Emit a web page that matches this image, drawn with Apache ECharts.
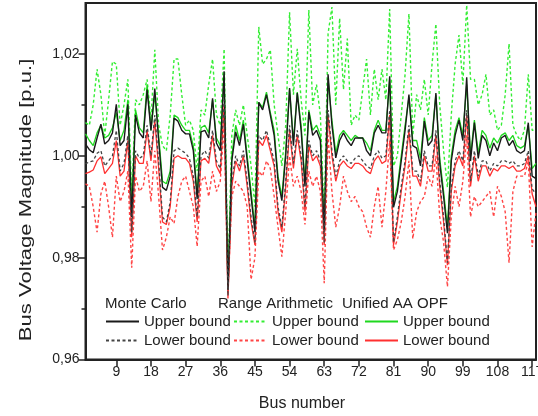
<!DOCTYPE html>
<html>
<head>
<meta charset="utf-8">
<script src="https://cdn.jsdelivr.net/npm/echarts@6/dist/echarts.min.js"></script>
<style>html,body{margin:0;padding:0;background:#fff}#c{width:538px;height:416px}</style>
</head>
<body>
<div id="c"></div>
<script>
// Bus numbers (x categories)
var buses = [];
for (var b = 1; b <= 118; b++) buses.push(b);

var xTicks = [9, 18, 27, 36, 45, 54, 63, 72, 81, 90, 99, 108, 117];
var yTicks = [0.96, 0.98, 1.00, 1.02];
var yMinorTicks = [0.97, 0.99, 1.01];

// Monte Carlo upper bound
var mcUpper = [
1.0023,1.0012,1.0006,1.0035,1.0062,1.0023,1.0030,1.0045,1.0101,1.0020,
1.0030,1.0101,0.9880,1.0080,1.0045,1.0035,1.0130,1.0050,1.0132,1.0030,
0.9938,0.9932,0.9960,1.0074,1.0068,1.0050,1.0043,1.0043,1.0010,0.9915,
1.0047,1.0050,1.0035,1.0113,1.0025,1.0010,1.0166,0.9737,0.9990,1.0047,
1.0020,1.0062,0.9990,0.9920,0.9850,1.0105,1.0090,1.0120,1.0080,1.0040,
0.9951,0.9912,1.0000,1.0133,1.0020,1.0123,1.0050,0.9940,1.0086,1.0040,
1.0050,1.0030,0.9854,1.0160,1.0060,0.9996,1.0030,1.0045,1.0030,1.0020,
1.0035,1.0035,1.0035,1.0010,1.0000,1.0045,1.0060,1.0045,1.0045,1.0156,
0.9899,0.9930,0.9990,1.0050,1.0120,1.0020,1.0015,0.9980,1.0068,1.0020,
1.0030,1.0123,0.9985,0.9920,0.9848,0.9990,1.0040,1.0070,1.0030,1.0154,
0.9990,1.0065,0.9995,1.0040,1.0030,1.0000,1.0025,1.0010,1.0035,1.0040,
1.0020,1.0030,1.0010,1.0005,1.0010,1.0065,0.9960,0.9955
];
// Monte Carlo lower bound
var mcLower = [
0.9984,0.9988,0.9990,1.0005,1.0010,0.9980,0.9990,1.0000,1.0050,0.9970,
0.9985,1.0040,0.9850,1.0010,0.9995,1.0000,1.0060,1.0000,1.0080,0.9990,
0.9880,0.9870,0.9910,1.0010,1.0015,1.0010,1.0005,0.9995,0.9960,0.9880,
1.0000,1.0010,0.9995,1.0050,0.9990,0.9975,1.0110,0.9725,0.9950,1.0000,
0.9980,1.0010,0.9950,0.9880,0.9830,1.0040,1.0030,1.0050,1.0020,0.9990,
0.9900,0.9860,0.9950,1.0060,0.9985,1.0050,1.0000,0.9900,1.0030,1.0000,
1.0010,0.9990,0.9830,1.0090,1.0010,0.9960,0.9990,1.0000,0.9990,0.9985,
0.9995,1.0000,0.9990,0.9980,0.9975,1.0000,1.0010,0.9995,1.0000,1.0090,
0.9830,0.9880,0.9940,0.9990,1.0060,0.9970,0.9970,0.9950,1.0010,0.9980,
0.9980,1.0050,0.9950,0.9880,0.9790,0.9940,0.9990,1.0010,0.9990,1.0090,
0.9950,1.0010,0.9960,0.9990,0.9990,0.9970,0.9985,0.9980,0.9990,0.9990,
0.9985,0.9990,0.9980,0.9980,0.9985,1.0010,0.9935,0.9925
];
// Range Arithmetic upper bound
var raUpper = [
1.0065,1.0060,1.0100,1.0170,1.0120,1.0040,1.0110,1.0185,1.0180,1.0060,
1.0100,1.0150,0.9920,1.0110,1.0100,1.0120,1.0150,1.0070,1.0208,1.0060,
1.0020,1.0010,1.0080,1.0190,1.0190,1.0120,1.0060,1.0070,1.0050,0.9970,
1.0090,1.0080,1.0140,1.0190,1.0080,1.0060,1.0210,0.9760,1.0040,1.0090,
1.0060,1.0100,1.0040,0.9980,0.9900,1.0253,1.0180,1.0190,1.0208,1.0100,
1.0040,0.9980,1.0060,1.0282,1.0120,1.0210,1.0110,1.0040,1.0286,1.0100,
1.0140,1.0080,0.9880,1.0240,1.0292,1.0100,1.0270,1.0130,1.0230,1.0060,
1.0080,1.0070,1.0130,1.0190,1.0080,1.0170,1.0110,1.0170,1.0110,1.0288,
0.9980,1.0000,1.0080,1.0160,1.0279,1.0040,1.0120,1.0090,1.0150,1.0080,
1.0180,1.0259,1.0100,1.0010,0.9938,1.0080,1.0180,1.0237,1.0140,1.0296,
1.0150,1.0150,1.0100,1.0120,1.0160,1.0080,1.0090,1.0050,1.0060,1.0120,
1.0220,1.0060,1.0040,1.0030,1.0050,1.0160,1.0050,1.0050
];
// Range Arithmetic lower bound
var raLower = [
0.9945,0.9940,0.9900,0.9850,0.9925,0.9950,0.9900,0.9840,0.9960,0.9910,
0.9930,0.9970,0.9780,0.9960,0.9930,0.9940,0.9990,0.9910,1.0010,0.9920,
0.9815,0.9840,0.9880,0.9867,0.9920,0.9950,0.9960,0.9930,0.9900,0.9822,
0.9950,0.9960,0.9920,0.9970,0.9930,0.9950,1.0060,0.9730,0.9920,0.9950,
0.9940,0.9930,0.9900,0.9757,0.9800,0.9970,0.9960,0.9990,0.9975,0.9920,
0.9860,0.9802,0.9890,1.0000,0.9940,0.9960,0.9930,0.9865,0.9970,0.9940,
0.9960,0.9930,0.9750,1.0040,0.9930,0.9860,0.9900,0.9960,0.9930,0.9910,
0.9920,0.9900,0.9890,0.9860,0.9840,0.9900,0.9940,0.9860,0.9930,1.0030,
0.9815,0.9835,0.9870,0.9920,0.9990,0.9837,0.9890,0.9910,0.9920,0.9960,
0.9940,1.0000,0.9880,0.9830,0.9743,0.9880,0.9940,0.9900,0.9950,1.0040,
0.9880,0.9920,0.9900,0.9910,0.9920,0.9930,0.9880,0.9940,0.9920,0.9890,
0.9790,0.9930,0.9960,0.9960,0.9960,0.9990,0.9821,0.9890
];
// Unified AA OPF upper bound
var aaUpper = [
1.0043,1.0030,1.0020,1.0045,1.0060,1.0035,1.0040,1.0055,1.0085,1.0030,
1.0050,1.0110,0.9895,1.0090,1.0055,1.0045,1.0140,1.0050,1.0120,1.0040,
0.9950,0.9945,0.9970,1.0080,1.0075,1.0060,1.0050,1.0050,1.0020,0.9925,
1.0055,1.0060,1.0045,1.0110,1.0035,1.0020,1.0160,0.9745,1.0000,1.0060,
1.0030,1.0070,1.0000,0.9930,0.9860,1.0105,1.0095,1.0125,1.0085,1.0050,
0.9960,0.9920,1.0010,1.0130,1.0030,1.0125,1.0060,0.9950,1.0090,1.0050,
1.0060,1.0040,0.9860,1.0150,1.0070,1.0005,1.0040,1.0050,1.0040,1.0030,
1.0040,1.0035,1.0035,1.0025,1.0010,1.0050,1.0070,1.0050,1.0050,1.0150,
0.9910,0.9940,1.0000,1.0060,1.0115,1.0030,1.0030,0.9995,1.0075,1.0030,
1.0040,1.0120,0.9995,0.9930,0.9860,1.0000,1.0050,1.0075,1.0040,1.0140,
1.0000,1.0070,1.0005,1.0050,1.0040,1.0015,1.0035,1.0025,1.0040,1.0045,
1.0030,1.0040,1.0020,1.0015,1.0020,1.0060,0.9975,0.9985
];
// Unified AA OPF lower bound
var aaLower = [
0.9965,0.9968,0.9972,0.9990,0.9998,0.9965,0.9975,0.9985,1.0030,0.9960,
0.9970,1.0030,0.9840,1.0000,0.9985,0.9985,1.0050,0.9990,1.0070,0.9975,
0.9870,0.9865,0.9900,0.9995,1.0000,0.9995,0.9995,0.9985,0.9950,0.9870,
0.9990,0.9995,0.9985,1.0040,0.9980,0.9965,1.0100,0.9720,0.9940,0.9990,
0.9970,1.0000,0.9940,0.9870,0.9825,1.0030,1.0020,1.0040,1.0010,0.9980,
0.9890,0.9850,0.9940,1.0050,0.9975,1.0040,0.9990,0.9890,1.0020,0.9990,
1.0000,0.9980,0.9825,1.0080,1.0000,0.9950,0.9980,0.9990,0.9980,0.9975,
0.9985,0.9985,0.9980,0.9970,0.9965,0.9990,1.0000,0.9985,0.9990,1.0080,
0.9825,0.9870,0.9930,0.9980,1.0050,0.9960,0.9960,0.9940,1.0000,0.9970,
0.9970,1.0040,0.9940,0.9870,0.9785,0.9930,0.9980,1.0000,0.9980,1.0080,
0.9940,1.0000,0.9950,0.9980,0.9980,0.9960,0.9975,0.9970,0.9980,0.9980,
0.9975,0.9980,0.9970,0.9970,0.9975,1.0000,0.9925,0.9900
];

function pts(arr) { return buses.map(function (b, i) { return [b, arr[i]]; }); }

var FONT = 'Liberation Sans, Arial, sans-serif';
var chart = echarts.init(document.getElementById('c'), null, { renderer: 'canvas' });

function mkSeries(name, arr, color, type, width, z) {
  return {
    name: name, type: 'line', data: pts(arr), symbol: 'none', showSymbol: false,
    z: z, animation: false,
    lineStyle: { color: color, width: width, type: type === 'dash' ? [3, 2.5] : 'solid' },
    itemStyle: { color: color }
  };
}

function legendAt(left, names) {
  return {
    orient: 'vertical', left: left, top: 314, itemWidth: 33, itemHeight: 14, itemGap: 4,
    data: names, selectedMode: false, padding: 0,
    itemStyle: { opacity: 0 },
    textStyle: { fontFamily: FONT, fontSize: 15, color: '#222', lineHeight: 15 },
    formatter: function (n) { return /Upper/.test(n) ? 'Upper bound' : 'Lower bound'; }
  };
}

var option = {
  backgroundColor: '#fff',
  animation: false,
  grid: { left: 85.5, right: 2, top: 3, bottom: 56.5, outerBoundsMode: 'none', containLabel: false,
    show: true, borderColor: '#222', borderWidth: 2, backgroundColor: 'transparent' },
  xAxis: {
    type: 'value', min: 1, max: 118,
    axisLine: { show: true, lineStyle: { color: '#222', width: 2 } },
    axisTick: { show: true, length: 7, customValues: xTicks, lineStyle: { color: '#222', width: 1.5 } },
    axisLabel: { customValues: xTicks, fontFamily: FONT, fontSize: 14, color: '#222', margin: 6 },
    splitLine: { show: false }
  },
  yAxis: [{
    type: 'value', min: 0.96, max: 1.03,
    axisLine: { show: true, lineStyle: { color: '#222', width: 2 } },
    axisTick: { show: true, length: 7, customValues: yTicks, lineStyle: { color: '#222', width: 1.5 } },
    axisLabel: { customValues: yTicks, fontFamily: FONT, fontSize: 14, color: '#222', margin: 6,
      formatter: function (v) { return v.toFixed(2).replace('.', ','); } },
    splitLine: { show: false }
  }, {
    type: 'value', min: 0.96, max: 1.03, position: 'left',
    axisLine: { show: false },
    axisTick: { show: true, length: 4, customValues: yMinorTicks, lineStyle: { color: '#222', width: 1.5 } },
    axisLabel: { show: false },
    splitLine: { show: false }
  }],
  legend: [
    legendAt(105, ['MC Upper', 'MC Lower']),
    legendAt(233, ['RA Upper', 'RA Lower']),
    legendAt(364, ['AA Upper', 'AA Lower'])
  ],
  graphic: [
    { type: 'text', left: 105, top: 296, style: { text: 'Monte Carlo', font: '15px ' + FONT, fill: '#222' } },
    { type: 'text', left: 218, top: 296, style: { text: 'Range Arithmetic', font: '15px ' + FONT, fill: '#222' } },
    { type: 'text', left: 342, top: 296, style: { text: 'Unified AA OPF', font: '15px ' + FONT, fill: '#222' } },
    { type: 'text', x: 302, y: 404, style: { text: 'Bus number', font: '16px ' + FONT, fill: '#222', align: 'center', verticalAlign: 'middle' } },
    { type: 'text', x: 26, y: 200, rotation: Math.PI / 2, scaleX: 1.3, style: { text: 'Bus Voltage Magnitude [p.u.]', font: '17px ' + FONT, fill: '#222', align: 'center', verticalAlign: 'middle' } }
  ],
  series: [
    mkSeries('RA Upper', raUpper, '#33ee33', 'dash', 1.4, 2),
    mkSeries('RA Lower', raLower, '#ff4545', 'dash', 1.4, 2),
    mkSeries('AA Upper', aaUpper, '#1fd81f', 'solid', 1.3, 3),
    mkSeries('AA Lower', aaLower, '#ff3030', 'solid', 1.3, 3),
    mkSeries('MC Upper', mcUpper, '#1a1a1a', 'solid', 1.4, 4),
    mkSeries('MC Lower', mcLower, '#444444', 'dash', 1.3, 4)
  ]
};
chart.setOption(option);
</script>
</body>
</html>
